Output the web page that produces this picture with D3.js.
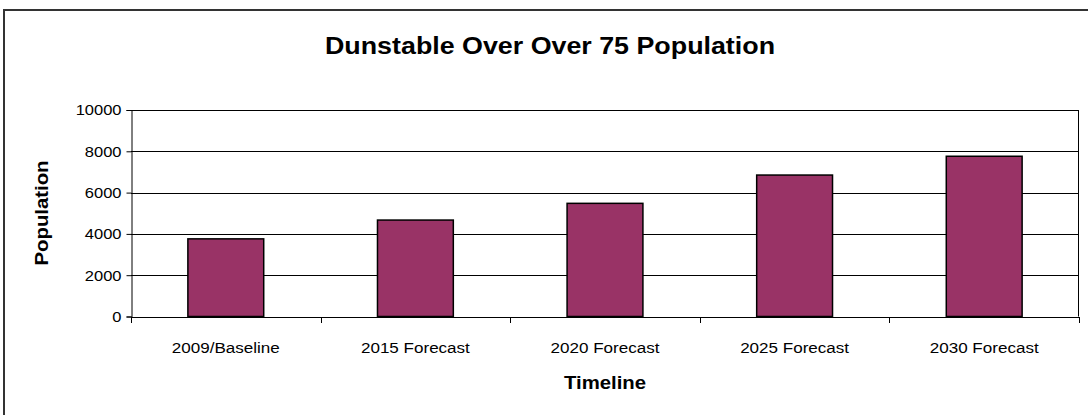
<!DOCTYPE html>
<html>
<head>
<meta charset="utf-8">
<script src="https://cdn.jsdelivr.net/npm/d3@7"></script>
<style>
  html, body { margin: 0; padding: 0; background: #fff; }
  svg { display: block; font-family: "Liberation Sans", Arial, sans-serif; }
</style>
</head>
<body>
<svg id="chart" width="1088" height="415"></svg>
<script>
// Over-75 population for Dunstable, baseline and forecasts
const categories = ["2009/Baseline", "2015 Forecast", "2020 Forecast", "2025 Forecast", "2030 Forecast"];
const population = [3760, 4670, 5480, 6850, 7760];
const yTicks = [0, 2000, 4000, 6000, 8000, 10000];

const titleText = "Dunstable Over Over 75 Population";
const xTitle = "Timeline";
const yTitle = "Population";

const plot = { left: 131, right: 1079, top: 110, bottom: 316.5 };
const stretch = 1.1; // horizontal text stretch

const svg = d3.select("#chart");

// outer chart frame (extends past the right and bottom edges)
svg.append("rect")
  .attr("x", 4).attr("y", 10)
  .attr("width", 1200).attr("height", 500)
  .attr("fill", "#fff")
  .attr("stroke", "#333").attr("stroke-width", 2);

const x = d3.scaleBand()
  .domain(categories)
  .range([plot.left, plot.right])
  .paddingInner(0.6).paddingOuter(0.3);

const xBoundary = d3.scaleLinear()
  .domain([0, categories.length])
  .range([plot.left, plot.right]);

const y = d3.scaleLinear()
  .domain([0, 10000])
  .range([plot.bottom, plot.top]);

// gridlines
svg.append("g")
  .selectAll("line")
  .data(yTicks.filter(d => d > 0))
  .join("line")
  .attr("x1", plot.left).attr("x2", plot.right)
  .attr("y1", d => Math.round(y(d)) + 0.5).attr("y2", d => Math.round(y(d)) + 0.5)
  .attr("stroke", "#000").attr("stroke-width", 1);

// bars
svg.append("g")
  .selectAll("rect")
  .data(population)
  .join("rect")
  .attr("x", (d, i) => x(categories[i]))
  .attr("y", d => y(d))
  .attr("width", x.bandwidth())
  .attr("height", d => y(0) - y(d))
  .attr("fill", "#993366")
  .attr("stroke", "#000").attr("stroke-width", 1.5);

// y axis
const yAxis = svg.append("g")
  .attr("transform", `translate(${plot.left + 0.5},0)`)
  .call(d3.axisLeft(y).tickValues(yTicks).tickSize(5).tickPadding(5).tickFormat(d3.format("d")));
yAxis.select(".domain").attr("stroke", "#000");
yAxis.selectAll(".tick line").attr("stroke", "#000");
yAxis.selectAll(".tick text")
  .attr("font-size", 15).attr("fill", "#000")
  .attr("font-family", "'Liberation Sans', Arial, sans-serif")
  .attr("transform", `scale(${stretch},1)`)
  .attr("x", -10 / stretch);

// right edge of the plot area
svg.append("line")
  .attr("x1", plot.right - 0.5).attr("x2", plot.right - 0.5)
  .attr("y1", plot.top).attr("y2", plot.bottom)
  .attr("stroke", "#000");

// x axis baseline and category boundary ticks
svg.append("line")
  .attr("x1", plot.left).attr("x2", plot.right)
  .attr("y1", Math.round(y(0)) + 0.5).attr("y2", Math.round(y(0)) + 0.5)
  .attr("stroke", "#000");

svg.append("g")
  .selectAll("line")
  .data(d3.range(categories.length + 1))
  .join("line")
  .attr("x1", d => Math.round(xBoundary(d)) + 0.5)
  .attr("x2", d => Math.round(xBoundary(d)) + 0.5)
  .attr("y1", Math.round(y(0)))
  .attr("y2", Math.round(y(0)) + 6)
  .attr("stroke", "#000");

// category labels
svg.append("g")
  .selectAll("text")
  .data(categories)
  .join("text")
  .attr("transform", d => `translate(${x(d) + x.bandwidth() / 2},353) scale(${stretch},1)`)
  .attr("text-anchor", "middle")
  .attr("font-size", 15.5).attr("fill", "#000")
  .text(d => d);

// chart title
svg.append("text")
  .attr("transform", `translate(550,54) scale(${stretch},1)`)
  .attr("text-anchor", "middle")
  .attr("font-weight", "bold").attr("font-size", 24.4)
  .attr("fill", "#000")
  .text(titleText);

// axis titles
svg.append("text")
  .attr("transform", `translate(605,389) scale(${stretch},1)`)
  .attr("text-anchor", "middle")
  .attr("font-weight", "bold").attr("font-size", 18.5)
  .attr("fill", "#000")
  .text(xTitle);

svg.append("text")
  .attr("transform", `translate(48,213) rotate(-90) scale(${stretch},1)`)
  .attr("text-anchor", "middle")
  .attr("font-weight", "bold").attr("font-size", 18.5)
  .attr("fill", "#000")
  .text(yTitle);
</script>
</body>
</html>
